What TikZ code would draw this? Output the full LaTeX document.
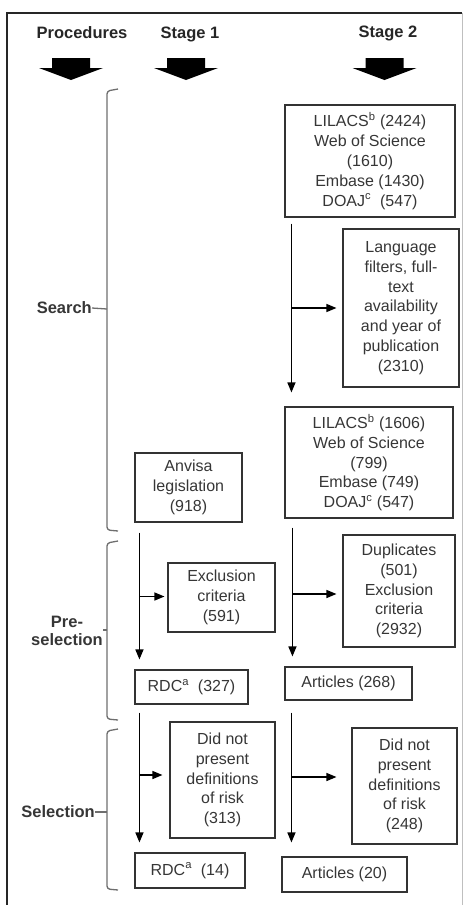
\documentclass[tikz,border=0pt]{standalone}
\usepackage{fontspec}
\setmainfont{Liberation Sans}
\usetikzlibrary{arrows.meta,calc}
\definecolor{txt}{HTML}{363636}
\definecolor{brk}{HTML}{6E6E6E}
\begin{document}
\begin{tikzpicture}[x=1pt,y=-1pt,
  box/.style={draw=black!80, line width=1.1pt, align=center, inner sep=0pt, text=txt,
    font=\fontsize{16}{19.8}\selectfont},
  head/.style={font=\bfseries\fontsize{16.5}{19}\selectfont, text=black!85},
  lab/.style={font=\bfseries\fontsize{16.5}{18.5}\selectfont, text=txt, align=center, inner sep=0pt},
  arr/.style={line width=1.3pt, black, -{Triangle[length=10pt,width=8pt]}},
  brace/.style={draw=brk, line width=1.3pt, rounded corners=3pt},
  blockarrow/.pic={\fill[black] (-19,0) -- (19,0) -- (19,10) -- (32,10) -- (0,22) -- (-32,10) -- (-19,10) -- cycle;}
]
\useasboundingbox (0,0) rectangle (463,905);
% frame
\draw[black!85, line width=1.6pt] (7,906) -- (7,13) -- (462,13);
\draw[black!25, line width=0.8pt] (462,13) -- (462,906);

% headers
\node[head] (hp) at (82,33) {Procedures};
\node[head] (h1) at (190,34) {Stage 1};
\node[head] (h2) at (388,33) {Stage 2};
\pic at (71,58) {blockarrow};
\pic at (186,58) {blockarrow};
\pic at (384.5,58) {blockarrow};

% stage 2 search
\node[box, minimum width=170pt, minimum height=112pt] (s2a) at (370,161)
  {LILACS\textsuperscript{b} (2424)\\Web of Science\\(1610)\\Embase (1430)\\DOAJ\textsuperscript{c}\ \ (547)};
\node[box, minimum width=116pt, minimum height=158pt] (lang) at (401,308)
  {Language\\filters, full-\\text\\availability\\and year of\\publication\\(2310)};
\node[box, minimum width=168pt, minimum height=111pt] (s2b) at (369,462.5)
  {LILACS\textsuperscript{b} (1606)\\Web of Science\\(799)\\Embase (749)\\DOAJ\textsuperscript{c} (547)};

% stage 1
\node[box, minimum width=107pt, minimum height=69pt] (anv) at (188.5,487.5)
  {Anvisa\\legislation\\(918)};
\node[box, minimum width=107pt, minimum height=69pt] (exc) at (221.5,597.5)
  {Exclusion\\criteria\\(591)};
\node[box, minimum width=112pt, minimum height=112pt] (dup) at (399,591)
  {Duplicates\\(501)\\Exclusion\\criteria\\(2932)};
\node[box, minimum width=113pt, minimum height=34pt] (rdc1) at (191.5,687)
  {RDC\textsuperscript{a}\ \ (327)};
\node[box, minimum width=127pt, minimum height=33pt] (art1) at (348.5,683.5)
  {Articles (268)};
\node[box, minimum width=105pt, minimum height=116pt] (dnp1) at (222.5,780)
  {Did not\\present\\definitions\\of risk\\(313)};
\node[box, minimum width=105pt, minimum height=116pt] (dnp2) at (404.5,786)
  {Did not\\present\\definitions\\of risk\\(248)};
\node[box, minimum width=110pt, minimum height=35pt] (rdc2) at (190,870.5)
  {RDC\textsuperscript{a}\ \ (14)};
\node[box, minimum width=125pt, minimum height=35pt] (art2) at (344.5,874.5)
  {Articles (20)};

% arrows
\coordinate (a1s) at ($(s2a.south west)+(7,6)$);
\draw[arr] (a1s) -- ($(s2b.north west)+(7,-14)$);
\draw[arr] (a1s |- lang.west) -- ($(lang.west)+(-6,0)$);

\coordinate (a2s) at ($(anv.south west)+(5,10)$);
\draw[arr] (a2s) -- ($(rdc1.north west)+(5,-10)$);
\draw[arr] ($(a2s |- exc.west)+(0,-1)$) -- ($(exc.west)+(-3,-1)$);

\coordinate (a3s) at ($(s2b.south west)+(8,9)$);
\draw[arr] (a3s) -- ($(art1.north west)+(8,-10)$);
\draw[arr] ($(a3s |- dup.west)+(0,3)$) -- ($(dup.west)+(-6,3)$);

\coordinate (a4s) at ($(rdc1.south west)+(5,8)$);
\draw[arr] (a4s) -- ($(rdc2.north west)+(5,-10)$);
\draw[arr] ($(a4s |- dnp1.west)+(0,-5)$) -- ($(dnp1.west)+(-7,-5)$);

\coordinate (a5s) at ($(art1.south west)+(7,12)$);
\draw[arr] (a5s) -- ($(art2.north west)+(10,-14)$);
\draw[arr] ($(a5s |- dnp2.west)+(0,-9)$) -- ($(dnp2.west)+(-15,-9)$);

% brackets and labels
\node[lab, anchor=east] (lsearch) at (92,308) {Search};
\draw[brace] (118,89) -- (107,91) -- (107,530) -- (118,531);
\draw[brk, line width=1.3pt] (107,309) -- (lsearch.east);

\node[lab] (lpre) at (67,631) {Pre-\\selection};
\draw[brace] (118,541) -- (107,543) -- (107,719) -- (118,720);
\draw[brk, line width=1.3pt] (107,630) -- (lpre.east |- 0,630);

\node[lab, anchor=east] (lsel) at (95,812) {Selection};
\draw[brace] (118,729) -- (107,731) -- (107,889) -- (118,890);
\draw[brk, line width=1.3pt] (107,812) -- (lsel.east);
\end{tikzpicture}
\end{document}
